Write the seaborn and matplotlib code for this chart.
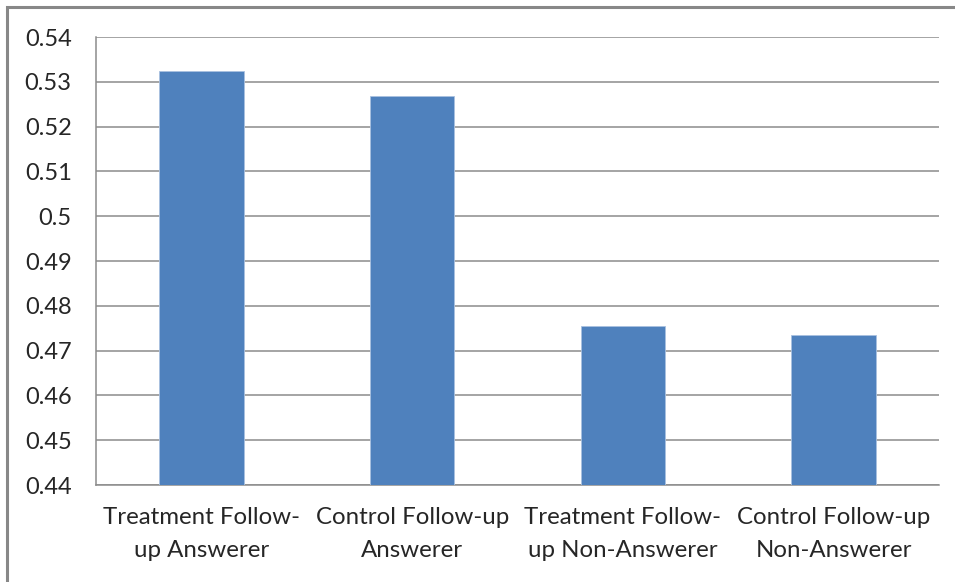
import matplotlib
matplotlib.use("Agg")
import matplotlib.pyplot as plt
from matplotlib.patches import Rectangle
from matplotlib.ticker import FixedLocator
import seaborn as sns
import pandas as pd

# Share of respondents by follow-up group
groups = ["Treatment Follow-up Answerer", "Control Follow-up Answerer",
          "Treatment Follow-up Non-Answerer", "Control Follow-up Non-Answerer"]
shares = [0.5323, 0.5269, 0.4755, 0.4735]
tick_labels = ["Treatment Follow-\nup Answerer", "Control Follow-up\nAnswerer",
               "Treatment Follow-\nup Non-Answerer", "Control Follow-up\nNon-Answerer"]
y_ticks = [0.44, 0.45, 0.46, 0.47, 0.48, 0.49, 0.50, 0.51, 0.52, 0.53, 0.54]
y_tick_labels = ["0.44", "0.45", "0.46", "0.47", "0.48", "0.49", "0.5",
                 "0.51", "0.52", "0.53", "0.54"]

sns.set_style("white")
plt.rcParams["font.family"] = ["Lato", "DejaVu Sans"]

df = pd.DataFrame({"group": groups, "share": shares})

fig = plt.figure(figsize=(9.55, 5.82), dpi=100)
ax = fig.add_axes([96 / 955, 1 - 485 / 582, (939 - 96) / 955, (485 - 37) / 582])

GRID = "#8c8c8c"
TEXT = "#262626"
sns.barplot(data=df, x="group", y="share", color="#4f81bd", saturation=1,
            width=0.4, edgecolor="#a9c1e0", linewidth=0.6, ax=ax, zorder=3)

ax.set_xlim(-0.5, len(groups) - 0.5)
ax.set_ylim(0.44, 0.54)
ax.yaxis.set_major_locator(FixedLocator(y_ticks))
ax.set_yticklabels(y_tick_labels)
ax.grid(axis="y", color=GRID, linewidth=1.1, zorder=0)
ax.set_axisbelow(True)

for side in ["top", "right"]:
    ax.spines[side].set_visible(False)
for side in ["left", "bottom"]:
    ax.spines[side].set_color(GRID)
    ax.spines[side].set_linewidth(1.1)

# category labels at bar centres, tick marks at category boundaries
ax.set_xticks(range(len(groups)))
ax.set_xticklabels(tick_labels, fontsize=17.3, color=TEXT, linespacing=1.7)
ax.xaxis.set_minor_locator(FixedLocator([i - 0.5 for i in range(len(groups) + 1)]))
ax.tick_params(axis="x", which="major", length=0, pad=16)
ax.tick_params(axis="x", which="minor", length=6, width=1.1, color=GRID, direction="out")
ax.tick_params(axis="y", which="major", length=6.5, width=1.1, color=GRID, direction="out",
               pad=11, labelsize=17, labelcolor=TEXT)
ax.set_xlabel("")
ax.set_ylabel("")

# chart frame
fig.patches.append(Rectangle((7 / 955, -0.1), 1.2, 1.1 - 7 / 582, transform=fig.transFigure,
                             fill=False, edgecolor="#888888", linewidth=2.2))

fig.savefig("out.png", dpi=100)
